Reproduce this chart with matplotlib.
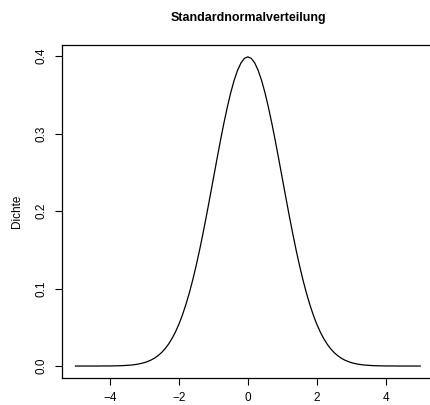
import matplotlib
matplotlib.use("Agg")
import matplotlib.pyplot as plt

plt.rcParams['font.family'] = ['Liberation Sans', 'DejaVu Sans']

title = "Standardnormalverteilung"
ylabel = "Dichte"
x_values = [-5.0, -4.9, -4.8, -4.7, -4.6, -4.5, -4.4, -4.3, -4.2, -4.1,
            -4.0, -3.9, -3.8, -3.7, -3.6, -3.5, -3.4, -3.3, -3.2, -3.1,
            -3.0, -2.9, -2.8, -2.7, -2.6, -2.5, -2.4, -2.3, -2.2, -2.1,
            -2.0, -1.9, -1.8, -1.7, -1.6, -1.5, -1.4, -1.3, -1.2, -1.1,
            -1.0, -0.9, -0.8, -0.7, -0.6, -0.5, -0.4, -0.3, -0.2, -0.1,
            0.0, 0.1, 0.2, 0.3, 0.4, 0.5, 0.6, 0.7, 0.8, 0.9,
            1.0, 1.1, 1.2, 1.3, 1.4, 1.5, 1.6, 1.7, 1.8, 1.9,
            2.0, 2.1, 2.2, 2.3, 2.4, 2.5, 2.6, 2.7, 2.8, 2.9,
            3.0, 3.1, 3.2, 3.3, 3.4, 3.5, 3.6, 3.7, 3.8, 3.9,
            4.0, 4.1, 4.2, 4.3, 4.4, 4.5, 4.6, 4.7, 4.8, 4.9, 5.0]
density = [0.0000, 0.0000, 0.0000, 0.0000, 0.0000, 0.0000, 0.0000, 0.0000, 0.0001, 0.0001,
           0.0001, 0.0002, 0.0003, 0.0004, 0.0006, 0.0009, 0.0012, 0.0017, 0.0024, 0.0033,
           0.0044, 0.0060, 0.0079, 0.0104, 0.0136, 0.0175, 0.0224, 0.0283, 0.0355, 0.0440,
           0.0540, 0.0656, 0.0790, 0.0940, 0.1109, 0.1295, 0.1497, 0.1714, 0.1942, 0.2179,
           0.2420, 0.2661, 0.2897, 0.3123, 0.3332, 0.3521, 0.3683, 0.3814, 0.3910, 0.3970,
           0.3989, 0.3970, 0.3910, 0.3814, 0.3683, 0.3521, 0.3332, 0.3123, 0.2897, 0.2661,
           0.2420, 0.2179, 0.1942, 0.1714, 0.1497, 0.1295, 0.1109, 0.0940, 0.0790, 0.0656,
           0.0540, 0.0440, 0.0355, 0.0283, 0.0224, 0.0175, 0.0136, 0.0104, 0.0079, 0.0060,
           0.0044, 0.0033, 0.0024, 0.0017, 0.0012, 0.0009, 0.0006, 0.0004, 0.0003, 0.0002,
           0.0001, 0.0001, 0.0001, 0.0000, 0.0000, 0.0000, 0.0000, 0.0000, 0.0000, 0.0000, 0.0000]
xticks = [-4, -2, 0, 2, 4]
yticks = [0.0, 0.1, 0.2, 0.3, 0.4]
ytick_labels = ["0.0", "0.1", "0.2", "0.3", "0.4"]

W, H = 430, 405
fig = plt.figure(figsize=(W / 100, H / 100), dpi=100)
left, right = 61.7, 434.0
top, bottom = 44.5, 378.4
ax = fig.add_axes([left / W, 1 - bottom / H, (right - left) / W, (bottom - top) / H])

ax.plot(x_values, density, color="black", linewidth=0.9)
xr = max(x_values) - min(x_values)
yr = max(density) - min(density)
ax.set_xlim(min(x_values) - 0.04 * xr, max(x_values) + 0.04 * xr)
ax.set_ylim(min(density) - 0.04 * yr, max(density) + 0.04 * yr)

ax.set_xticks(xticks)
ax.set_xticklabels([f"{t:d}".replace("-", "\u2212") for t in xticks])
ax.set_yticks(yticks)
ax.set_yticklabels(ytick_labels, rotation=90, va="center")
ax.tick_params(axis="both", direction="out", length=5, width=0.8, labelsize=8.5, pad=5)
for sp in ax.spines.values():
    sp.set_linewidth(0.9)

fig.text(248 / W, 1 - 18 / H, title, ha="center", va="center",
         fontsize=9, fontweight="bold")
fig.text(17 / W, 1 - 211 / H, ylabel, rotation=90, ha="center", va="center", fontsize=8.5)

fig.savefig("out.png", dpi=100)
